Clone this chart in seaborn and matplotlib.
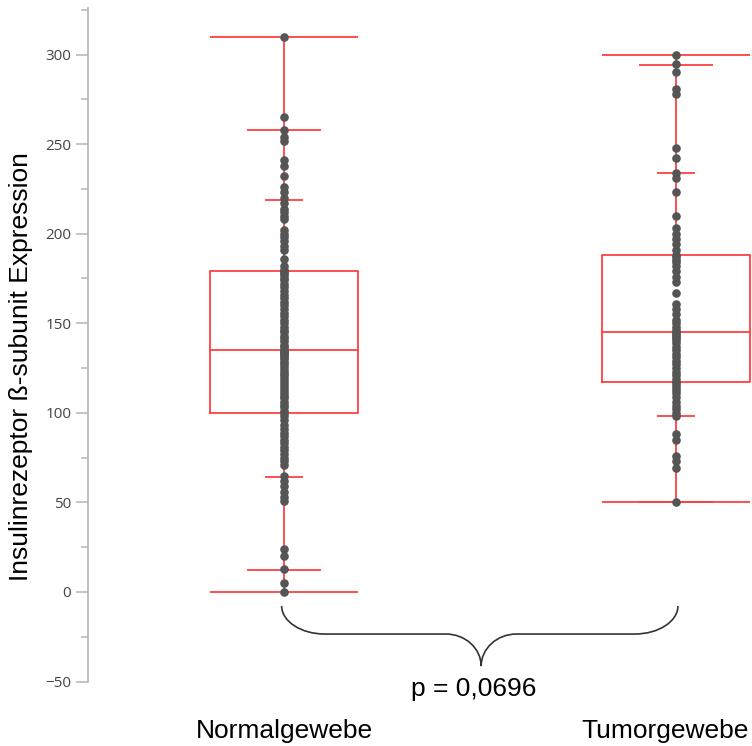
import numpy as np
import pandas as pd
import matplotlib
matplotlib.use("Agg")
import matplotlib.pyplot as plt
import seaborn as sns
from matplotlib.path import Path
from matplotlib.patches import PathPatch
from matplotlib.ticker import MultipleLocator
from matplotlib.transforms import ScaledTranslation

# ---------------- data ----------------
categories = ["Normalgewebe", "Tumorgewebe"]

normal_values = [0, 5, 13, 20, 24, 51, 53, 56, 59, 62, 65, 71, 73, 75, 77, 79, 81, 83,
                 85, 87, 89, 91, 93, 96, 98,
                 100,
                 101, 103, 104.5, 106, 108, 109.5, 111, 113, 114.5, 116, 118, 119.5,
                 121, 122.5, 124, 125.5, 127, 128.5, 130, 131, 132, 133, 134, 134.5,
                 135,
                 136.5, 138, 140, 141.5, 143, 145, 146.5, 148, 150, 152, 154, 156,
                 158, 160, 162, 164, 166, 168, 170, 172, 174, 175.5, 177, 178,
                 179,
                 180, 182, 186, 191, 193, 196, 198, 200, 202, 208, 210, 212, 214,
                 217, 220, 223, 226, 232, 238, 241, 252, 254, 258, 265, 310]

tumor_values = [50, 69, 73, 76, 85, 88, 98.5, 100, 102, 104, 106, 109, 111, 113, 114.5, 116,
                117,
                119, 121, 123, 125, 127, 129, 131, 133, 135, 137, 139, 140.5, 142, 143, 144,
                145,
                146.5, 148, 150, 152, 155, 158, 161, 167, 173, 176, 179, 182, 184, 185.5, 187,
                188,
                191, 194, 197, 200, 203, 210, 223, 231, 234, 242, 248, 278, 281, 290, 295, 300]

quantile_levels = ["0%", "2.5%", "10%", "90%", "97.5%", "100%"]
normal_quantiles = [0, 12, 64, 219, 258, 310]
tumor_quantiles = [50, 50, 98, 234, 294, 300]

p_text = "p = 0,0696"
y_label = "Insulinrezeptor ß-subunit Expression"
y_ticks = [-50, 0, 50, 100, 150, 200, 250, 300]

# ---------------- styling ----------------
RED = "#ff4040"
GRAY_PT = "#555555"
BOX_W = 0.38
tier_width = {"0%": BOX_W, "100%": BOX_W, "2.5%": 0.19, "97.5%": 0.19,
              "10%": 0.097, "90%": 0.097}

sns.set_theme(style="white")
plt.rcParams["font.family"] = ["Liberation Sans", "DejaVu Sans"]

df = pd.DataFrame({
    "group": [categories[0]] * len(normal_values) + [categories[1]] * len(tumor_values),
    "value": normal_values + tumor_values,
})

fig = plt.figure(figsize=(7.52, 7.46), dpi=100)
ax = fig.add_axes([88 / 752, 64.5 / 746, 664 / 752, 673.5 / 746])

sns.boxplot(data=df, x="group", y="value", order=categories, whis=(0, 100),
            showcaps=False, showfliers=False, fill=False, color=RED,
            width=BOX_W, linewidth=1.3, ax=ax, zorder=2)

for pos, qvals in enumerate([normal_quantiles, tumor_quantiles]):
    for lvl, v in zip(quantile_levels, qvals):
        w = tier_width[lvl]
        ax.hlines(v, pos - w / 2, pos + w / 2, color=RED, lw=1.3, zorder=2)

sns.stripplot(data=df, x="group", y="value", order=categories, jitter=False,
              color=GRAY_PT, size=6.2, linewidth=0, zorder=4, ax=ax)

ax.set_xlim(-0.5, (752 - 284) / 392)
ax.set_ylim(-50, 326)

# axes styling
for s in ["top", "right", "bottom"]:
    ax.spines[s].set_visible(False)
ax.spines["left"].set_color("#b5b5b5")
ax.spines["left"].set_linewidth(1.2)
ax.spines["left"].set_bounds(-50, 326)
ax.set_yticks(y_ticks)
ax.yaxis.set_minor_locator(MultipleLocator(25))
ax.tick_params(axis="y", which="major", left=True, length=9, width=1.1,
               color="#b5b5b5", labelsize=11, labelcolor="#444444", pad=3)
ax.tick_params(axis="y", which="minor", left=True, length=5, width=1.1, color="#b5b5b5")
for lbl in ax.get_yticklabels():
    lbl.set_fontfamily(["Open Sans", "DejaVu Sans"])

ax.tick_params(axis="x", length=0, pad=27, labelsize=19, labelcolor="black")
xl = ax.get_xticklabels()
xl[1].set_transform(xl[1].get_transform() + ScaledTranslation(-11 / 100, 0, fig.dpi_scale_trans))
ax.set_xlabel("")
ax.set_ylabel(y_label, fontsize=19, color="black")
ax.yaxis.set_label_coords(-0.083, 0.468)
ax.grid(False)

# brace between the groups
x0, x1, xc = -0.006, 1.005, 0.503
ytop, ymid, ytip = -7.8, -23.5, -41.4
wc = 0.11   # corner width
wm = 0.09   # middle curve width
k = 0.55
verts = [
    (x0, ytop),
    (x0, ytop + k * (ymid - ytop)), (x0 + (1 - k) * wc, ymid), (x0 + wc, ymid),
    (xc - wm, ymid),
    (xc - wm + k * wm, ymid), (xc, ymid + (1 - k) * (ytip - ymid)), (xc, ytip),
    (xc, ymid + (1 - k) * (ytip - ymid)), (xc + wm - k * wm, ymid), (xc + wm, ymid),
    (x1 - wc, ymid),
    (x1 - (1 - k) * wc, ymid), (x1, ytop + k * (ymid - ytop)), (x1, ytop),
]
codes = [Path.MOVETO,
         Path.CURVE4, Path.CURVE4, Path.CURVE4,
         Path.LINETO,
         Path.CURVE4, Path.CURVE4, Path.CURVE4,
         Path.CURVE4, Path.CURVE4, Path.CURVE4,
         Path.LINETO,
         Path.CURVE4, Path.CURVE4, Path.CURVE4]
ax.add_patch(PathPatch(Path(verts, codes), fill=False, edgecolor="#333333",
                       lw=1.2, clip_on=False, zorder=5))
ax.text(0.485, -58.2, p_text, ha="center", va="baseline", fontsize=19,
        color="black", clip_on=False)

fig.savefig("out.png", dpi=100)
